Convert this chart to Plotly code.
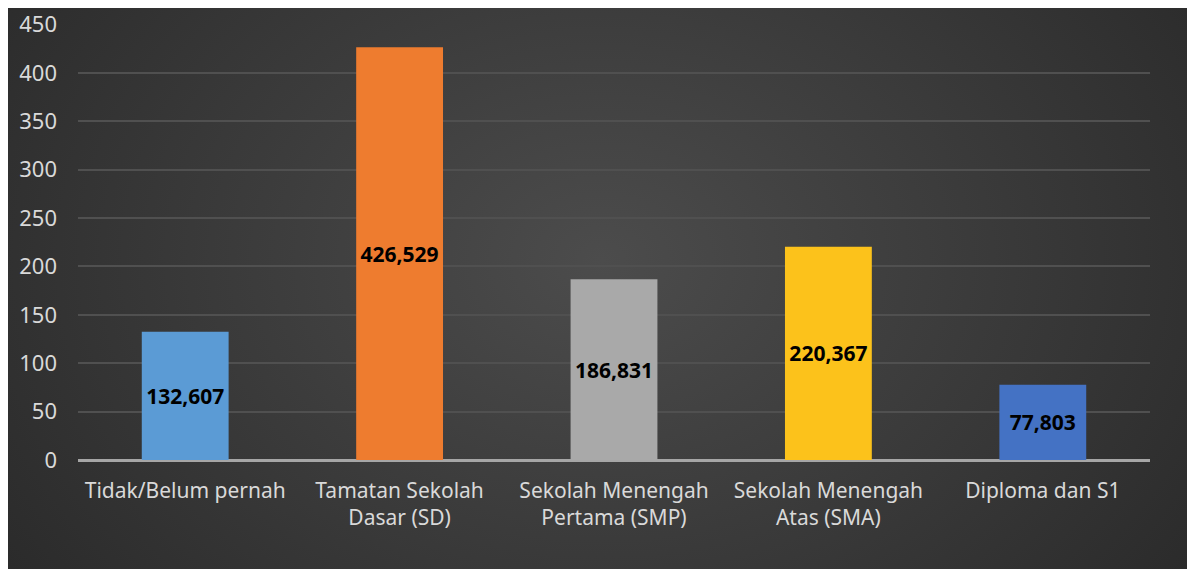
import base64
import plotly.graph_objects as go

# ---- data ----
categories = [
    "Tidak/Belum pernah",
    "Tamatan Sekolah<br>Dasar (SD)",
    "Sekolah Menengah<br>Pertama (SMP)",
    "Sekolah Menengah<br>Atas (SMA)",
    "Diploma dan S1",
]
values = [132.607, 426.529, 186.831, 220.367, 77.803]
labels = ["132,607", "426,529", "186,831", "220,367", "77,803"]
y_ticks = [0, 50, 100, 150, 200, 250, 300, 350, 400, 450]

# ---- style ----
bar_colors = ["#5b9bd5", "#ee7c2f", "#a9a9a9", "#fcc21b", "#4472c4"]
W, H = 1187, 561
L, R, T, B = 70, 45, 16, 109
pw, ph = W - L - R, H - T - B

# radial gradient background image (dark frame)
svg = (
    '<svg xmlns="http://www.w3.org/2000/svg" width="1187" height="561" '
    'preserveAspectRatio="none" viewBox="0 0 1187 561">'
    '<defs><radialGradient id="g" cx="0.5" cy="0.45" r="0.75" '
    'gradientTransform="translate(0.5,0.45) scale(1,1.6) translate(-0.5,-0.45)">'
    '<stop offset="0" stop-color="#4c4c4c"/>'
    '<stop offset="1" stop-color="#232323"/>'
    '</radialGradient></defs>'
    '<rect width="1187" height="561" fill="url(#g)"/></svg>'
)
src = "data:image/svg+xml;base64," + base64.b64encode(svg.encode()).decode()

x0 = -L / pw
x1 = (W - L) / pw
ytop = (ph + T) / ph
ybot = -B / ph

fig = go.Figure()
fig.add_trace(
    go.Bar(
        x=categories,
        y=values,
        text=labels,
        textposition="inside",
        insidetextanchor="middle",
        textangle=0,
        textfont=dict(family="Noto Sans", size=21, color="#000000", weight="bold"),
        marker=dict(color=bar_colors, line=dict(width=0)),
        hoverinfo="skip",
    )
)

fig.update_layout(
    width=W,
    height=H,
    margin=dict(l=L, r=R, t=T, b=B, pad=0, autoexpand=False),
    paper_bgcolor="#262626",
    plot_bgcolor="rgba(0,0,0,0)",
    bargap=0.595,
    showlegend=False,
    font=dict(family="Noto Sans", color="#d9d9d9", size=20),
    images=[
        dict(
            source=src,
            xref="paper",
            yref="paper",
            x=x0,
            y=ytop,
            sizex=x1 - x0,
            sizey=ytop - ybot,
            xanchor="left",
            yanchor="top",
            sizing="stretch",
            layer="below",
        )
    ],
    xaxis=dict(
        showgrid=False,
        showline=False,
        zeroline=False,
        ticks="",
        automargin=False,
        tickfont=dict(size=21, color="#d9d9d9"),
        ticklabelstandoff=16,
    ),
    yaxis=dict(
        range=[0, 450.6],
        tickvals=y_ticks,
        showgrid=True,
        gridcolor="#505050",
        gridwidth=1.5,
        zeroline=True,
        zerolinecolor="#a6a6a6",
        zerolinewidth=3,
        showline=False,
        ticks="",
        automargin=False,
        tickfont=dict(size=22, color="#d9d9d9"),
        ticklabelstandoff=20,
    ),
)

fig.write_html("out.html")
